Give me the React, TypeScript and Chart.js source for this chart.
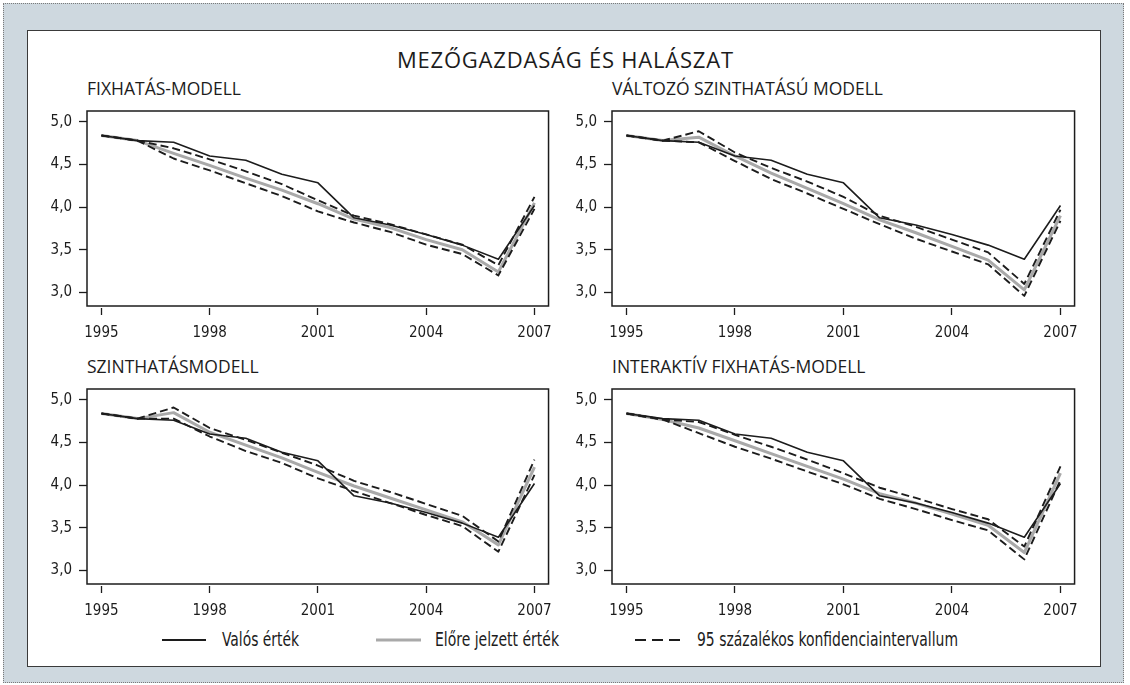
import React, { useEffect, useRef } from "react";
import { Chart, registerables } from "chart.js";
Chart.register(...registerables);

const years = [1995, 1996, 1997, 1998, 1999, 2000, 2001, 2002, 2003, 2004, 2005, 2006, 2007];
const xTickYears = [1995, 1998, 2001, 2004, 2007];
const yTickValues = [3.0, 3.5, 4.0, 4.5, 5.0];

const actualValues = [4.84, 4.78, 4.76, 4.6, 4.55, 4.385, 4.285, 3.875, 3.79, 3.68, 3.555, 3.39, 4.02];

const fixPredicted = [4.84, 4.78, 4.63, 4.49, 4.34, 4.2, 4.04, 3.86, 3.76, 3.62, 3.5, 3.24, 4.05];
const fixUpper = [4.84, 4.78, 4.69, 4.56, 4.42, 4.27, 4.08, 3.9, 3.8, 3.68, 3.56, 3.32, 4.12];
const fixLower = [4.84, 4.78, 4.57, 4.43, 4.28, 4.13, 3.95, 3.82, 3.71, 3.56, 3.45, 3.2, 3.98];

const varPredicted = [4.84, 4.78, 4.82, 4.6, 4.4, 4.22, 4.04, 3.85, 3.7, 3.54, 3.38, 3.03, 3.9];
const varUpper = [4.84, 4.78, 4.89, 4.64, 4.46, 4.3, 4.12, 3.9, 3.77, 3.62, 3.47, 3.1, 3.97];
const varLower = [4.84, 4.78, 4.76, 4.54, 4.33, 4.16, 3.98, 3.8, 3.63, 3.48, 3.33, 2.96, 3.84];

const lvlPredicted = [4.84, 4.78, 4.85, 4.62, 4.47, 4.32, 4.15, 3.99, 3.85, 3.71, 3.57, 3.3, 4.21];
const lvlUpper = [4.84, 4.78, 4.91, 4.67, 4.53, 4.38, 4.23, 4.05, 3.92, 3.78, 3.64, 3.34, 4.3];
const lvlLower = [4.84, 4.78, 4.78, 4.57, 4.4, 4.26, 4.08, 3.93, 3.79, 3.65, 3.52, 3.22, 4.12];

const intPredicted = [4.84, 4.77, 4.67, 4.52, 4.37, 4.22, 4.07, 3.9, 3.79, 3.66, 3.53, 3.21, 4.14];
const intUpper = [4.84, 4.77, 4.74, 4.59, 4.45, 4.3, 4.14, 3.97, 3.85, 3.72, 3.6, 3.28, 4.22];
const intLower = [4.84, 4.77, 4.61, 4.45, 4.31, 4.16, 4.01, 3.84, 3.72, 3.59, 3.47, 3.13, 4.06];

const mainTitle = "MEZŐGAZDASÁG ÉS HALÁSZAT";
const panelTitles = [
  "FIXHATÁS-MODELL",
  "VÁLTOZÓ SZINTHATÁSÚ MODELL",
  "SZINTHATÁSMODELL",
  "INTERAKTÍV FIXHATÁS-MODELL",
];
const legendLabels = ["Valós érték", "Előre jelzett érték", "95 százalékos konfidenciaintervallum"];

const NARROW_FONT = "'DejaVu Sans Condensed', 'Liberation Sans Narrow', sans-serif";
const TITLE_FONT = "'Open Sans', 'Noto Sans', sans-serif";

const X_MIN = 1994.6;
const X_MAX = 2007.39;
const Y_MIN = 2.818;
const Y_MAX = 5.127;

const INK = "#1c1c1c";
const GREY_LINE = "#a9a9a9";

type PanelProps = {
  boxLeft: number;
  boxTop: number;
  plotW: number;
  pred: number[];
  upper: number[];
  lower: number[];
};

function Panel({ boxLeft, boxTop, plotW, pred, upper, lower }: PanelProps) {
  const ref = useRef<HTMLCanvasElement>(null);
  const W = 67 + plotW + 12;
  const H = 245;

  useEffect(() => {
    if (!ref.current) return;
    const toPts = (arr: number[]) => years.map((yr, i) => ({ x: yr, y: arr[i] }));
    const boxPlugin = {
      id: "plotBox",
      afterDatasetsDraw(chart: any) {
        const { ctx, chartArea: a } = chart;
        ctx.save();
        ctx.strokeStyle = INK;
        ctx.lineWidth = 1.5;
        ctx.strokeRect(a.left, a.top, a.right - a.left, a.bottom - 2 - a.top);
        ctx.restore();
      },
    };
    const chart = new Chart(ref.current, {
      type: "line",
      data: {
        datasets: [
          {
            label: legendLabels[0],
            data: toPts(actualValues),
            borderColor: INK,
            borderWidth: 1.6,
            pointRadius: 0,
            order: 0,
          },
          {
            label: legendLabels[2],
            data: toPts(upper),
            borderColor: INK,
            borderWidth: 1.9,
            borderDash: [8, 4],
            pointRadius: 0,
            order: 1,
          },
          {
            label: legendLabels[2],
            data: toPts(lower),
            borderColor: INK,
            borderWidth: 1.9,
            borderDash: [8, 4],
            pointRadius: 0,
            order: 1,
          },
          {
            label: legendLabels[1],
            data: toPts(pred),
            borderColor: GREY_LINE,
            borderWidth: 3,
            pointRadius: 0,
            order: 2,
          },
        ],
      } as any,
      options: {
        responsive: false,
        animation: false,
        devicePixelRatio: 1,
        layout: { padding: { top: 7, left: 0, right: 12, bottom: 0 } },
        elements: { line: { tension: 0, borderJoinStyle: "round" } },
        plugins: {
          legend: { display: false },
          tooltip: { enabled: false },
          title: { display: false },
        },
        scales: {
          x: {
            type: "linear",
            min: X_MIN,
            max: X_MAX,
            afterBuildTicks: (s: any) => {
              s.ticks = xTickYears.map((v) => ({ value: v }));
            },
            afterFit: (s: any) => {
              s.height = 32;
            },
            grid: { drawOnChartArea: false, drawTicks: true, tickLength: 7, tickColor: INK, tickWidth: 1.3 },
            border: { display: false },
            ticks: {
              font: { family: NARROW_FONT, size: 15 },
              color: INK,
              padding: 9,
              maxRotation: 0,
              autoSkip: false,
              callback: (v: any) => String(v),
            },
          },
          y: {
            type: "linear",
            min: Y_MIN,
            max: Y_MAX,
            afterBuildTicks: (s: any) => {
              s.ticks = yTickValues.map((v) => ({ value: v }));
            },
            afterFit: (s: any) => {
              s.width = 67;
            },
            grid: { drawOnChartArea: false, drawTicks: true, tickLength: 8, tickColor: INK, tickWidth: 1.3 },
            border: { display: false },
            ticks: {
              font: { family: NARROW_FONT, size: 15 },
              color: INK,
              padding: 7,
              callback: (v: any) => Number(v).toFixed(1).replace(".", ","),
            },
          },
        },
      } as any,
      plugins: [boxPlugin],
    });
    return () => chart.destroy();
  }, []);

  return (
    <canvas
      ref={ref}
      width={W}
      height={H}
      style={{ position: "absolute", left: boxLeft - 67, top: boxTop - 7, width: W, height: H }}
    />
  );
}

export default function App() {
  const panels = [
    { boxLeft: 87, boxTop: 102, plotW: 462, pred: fixPredicted, upper: fixUpper, lower: fixLower, title: panelTitles[0] },
    { boxLeft: 612, boxTop: 102, plotW: 463, pred: varPredicted, upper: varUpper, lower: varLower, title: panelTitles[1] },
    { boxLeft: 87, boxTop: 380, plotW: 462, pred: lvlPredicted, upper: lvlUpper, lower: lvlLower, title: panelTitles[2] },
    { boxLeft: 612, boxTop: 380, plotW: 463, pred: intPredicted, upper: intUpper, lower: intLower, title: panelTitles[3] },
  ];
  return (
    <div style={{ position: "absolute", left: 0, top: 0, width: 1130, height: 685, background: "#ffffff", overflow: "hidden" }}>
      <div
        style={{
          position: "absolute",
          left: 3,
          top: 3,
          width: 1121,
          height: 680,
          boxSizing: "border-box",
          border: "1px dotted #7a7a7a",
          background: "#ced8df",
        }}
      />
      <div
        style={{
          position: "absolute",
          left: 27,
          top: 30,
          width: 1074,
          height: 637,
          boxSizing: "border-box",
          border: "1px solid #3a3a3a",
          background: "#ffffff",
        }}
      />
      <svg width={1130} height={685} style={{ position: "absolute", left: 0, top: 0 }}>
        <text
          x={397}
          y={68}
          fontFamily={TITLE_FONT}
          fontSize={22}
          textLength={336}
          lengthAdjust="spacing"
          fill={INK}
        >
          {mainTitle}
        </text>
        {panels.map((p, i) => (
          <text key={i} x={p.boxLeft} y={p.boxTop - 7} fontFamily={TITLE_FONT} fontSize={17.5} fill={INK}>
            {p.title}
          </text>
        ))}
        <line x1={162} x2={206} y1={640} y2={640} stroke={INK} strokeWidth={2} />
        <text x={222} y={646} fontFamily={NARROW_FONT} fontSize={19.5} textLength={77} lengthAdjust="spacingAndGlyphs" fill={INK}>
          {legendLabels[0]}
        </text>
        <line x1={376} x2={421} y1={640} y2={640} stroke={GREY_LINE} strokeWidth={3} />
        <text x={435} y={646} fontFamily={NARROW_FONT} fontSize={19.5} textLength={124} lengthAdjust="spacingAndGlyphs" fill={INK}>
          {legendLabels[1]}
        </text>
        <line x1={635} x2={681} y1={640} y2={640} stroke={INK} strokeWidth={2} strokeDasharray="11 6" />
        <text x={697} y={646} fontFamily={NARROW_FONT} fontSize={19.5} textLength={261} lengthAdjust="spacingAndGlyphs" fill={INK}>
          {legendLabels[2]}
        </text>
      </svg>
      {panels.map((p, i) => (
        <Panel key={i} boxLeft={p.boxLeft} boxTop={p.boxTop} plotW={p.plotW} pred={p.pred} upper={p.upper} lower={p.lower} />
      ))}
    </div>
  );
}
